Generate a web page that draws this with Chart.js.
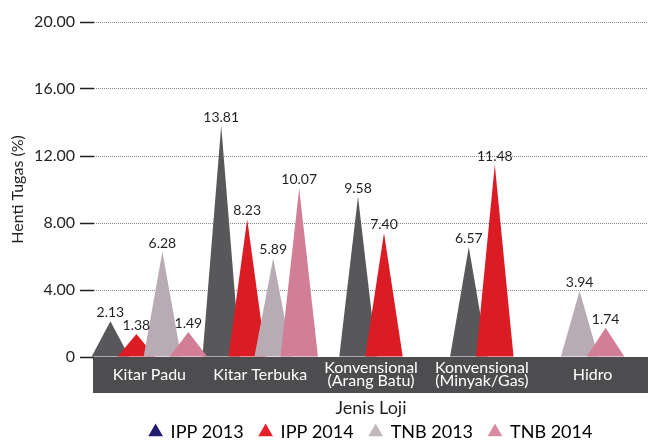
<!DOCTYPE html>
<html>
<head>
<meta charset="utf-8">
<script src="https://cdn.jsdelivr.net/npm/chart.js@4"></script>
<style>
  body { margin: 0; background: #fff; }
  #wrap { width: 648px; height: 443px; }
</style>
</head>
<body>
<div id="wrap"><canvas id="chart"></canvas></div>
<script>
const categories = [
  ["Kitar Padu"],
  ["Kitar Terbuka"],
  ["Konvensional", "(Arang Batu)"],
  ["Konvensional", "(Minyak/Gas)"],
  ["Hidro"]
];
const seriesNames = ["IPP 2013", "IPP 2014", "TNB 2013", "TNB 2014"];
const ipp2013 = [2.13, 13.81, 9.58, 6.57, null];
const ipp2014 = [1.38, 8.23, 7.40, 11.48, null];
const tnb2013 = [6.28, 5.89, null, null, 3.94];
const tnb2014 = [1.49, 10.07, null, null, 1.74];
const yTicks = [0, 4, 8, 12, 16, 20];

const fillColors = ["#58585a", "#dc1c25", "#b9abb4", "#d27e96"];
const legendColors = ["#211c6d", "#e8202a", "#c4b6bf", "#d98aa0"];
const textColor = "#231f20";
const bandColor = "#4d4c4e";

// triangles instead of rectangles, plus value labels and the dark label band
const trianglePlugin = {
  id: "triangles",
  beforeDraw(chart) {
    const { ctx, chartArea } = chart;
    ctx.save();
    ctx.fillStyle = bandColor;
    ctx.fillRect(chartArea.left - 1, chartArea.bottom, chartArea.right - chartArea.left + 1, 36);
    ctx.restore();
  },
  beforeDatasetDraw() {
    return false;
  },
  afterDatasetsDraw(chart) {
    const ctx = chart.ctx;
    ctx.save();
    chart.data.datasets.forEach((ds, i) => {
      const meta = chart.getDatasetMeta(i);
      ctx.fillStyle = fillColors[i];
      meta.data.forEach((bar, j) => {
        if (ds.data[j] == null) return;
        const half = bar.width * 0.72;
        ctx.beginPath();
        ctx.moveTo(bar.x - half, bar.base);
        ctx.lineTo(bar.x, bar.y);
        ctx.lineTo(bar.x + half, bar.base);
        ctx.closePath();
        ctx.fill();
      });
    });
    ctx.fillStyle = textColor;
    ctx.font = "14px Lato";
    ctx.textAlign = "center";
    ctx.textBaseline = "alphabetic";
    chart.data.datasets.forEach((ds, i) => {
      const meta = chart.getDatasetMeta(i);
      meta.data.forEach((bar, j) => {
        if (ds.data[j] == null) return;
        ctx.fillText(ds.data[j].toFixed(2), bar.x, bar.y - 4);
      });
    });
    ctx.restore();
  }
};

new Chart(document.getElementById("chart"), {
  type: "bar",
  data: {
    labels: categories,
    datasets: [ipp2013, ipp2014, tnb2013, tnb2014].map((d, i) => ({
      label: seriesNames[i],
      data: d,
      backgroundColor: fillColors[i],
      barThickness: 26,
      skipNull: true
    }))
  },
  options: {
    responsive: true,
    maintainAspectRatio: false,
    animation: false,
    events: [],
    layout: { padding: { top: 22, right: 0, bottom: -8, left: 0 } },
    scales: {
      x: {
        grid: { display: false },
        border: { display: false },
        ticks: {
          color: "#ffffff",
          font: { family: "Lato", size: 16, lineHeight: 0.82 },
          padding: 3,
          maxRotation: 0,
          autoSkip: false,
          crossAlign: "center"
        },
        title: {
          display: true,
          text: "Jenis Loji",
          color: textColor,
          font: { family: "Lato", size: 18 },
          padding: { top: 0, bottom: -11.8 }
        },
        afterFit(scale) { scale.height = 50; }
      },
      y: {
        min: 0,
        max: 20,
        afterBuildTicks(scale) {
          scale.ticks = yTicks.map(v => ({ value: v }));
        },
        ticks: {
          color: textColor,
          font: { family: "Lato", size: 16 },
          padding: 5,
          callback: v => (v === 0 ? "0" : v.toFixed(2))
        },
        grid: {
          color: ctx => (ctx.tick && ctx.tick.value === 0 ? "rgba(0,0,0,0)" : "#8c8c8c"),
          lineWidth: 1,
          tickColor: textColor,
          tickLength: 14,
          tickWidth: 1.5
        },
        border: { display: false, dash: [1, 1] },
        title: {
          display: true,
          text: "Henti Tugas (%)",
          color: textColor,
          font: { family: "Lato", size: 16 },
          padding: { top: 8, bottom: 4 }
        },
        afterFit(scale) { scale.width = 94; }
      }
    },
    plugins: {
      legend: {
        position: "bottom",
        fullSize: false,
        labels: {
          color: textColor,
          font: { family: "Lato", size: 18 },
          usePointStyle: true,
          pointStyle: "triangle",
          boxWidth: 12,
          boxHeight: 12,
          padding: 16,
          generateLabels(chart) {
            return seriesNames.map((name, i) => ({
              text: name,
              fillStyle: legendColors[i],
              strokeStyle: legendColors[i],
              lineWidth: 0,
              pointStyle: "triangle",
              datasetIndex: i
            }));
          }
        }
      },
      tooltip: { enabled: false }
    }
  },
  plugins: [trianglePlugin]
});
</script>
</body>
</html>
